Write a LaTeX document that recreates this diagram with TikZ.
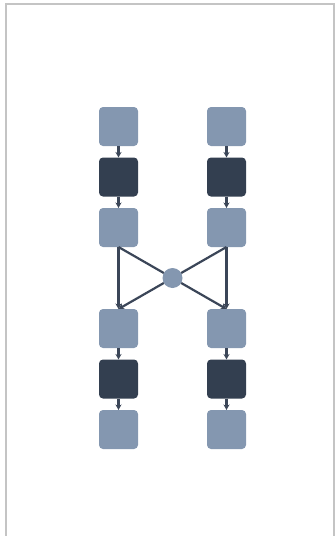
\documentclass[tikz,border=0pt]{standalone}
\usepackage{tikz}
\usetikzlibrary{arrows.meta}
\usetikzlibrary{positioning}
\definecolor{lightslate}{HTML}{8497B0}
\definecolor{darkslate}{HTML}{333F50}
\definecolor{edgecol}{HTML}{3B4658}
\definecolor{framecol}{HTML}{C4C4C4}
\tikzset{
    light node/.style={rounded corners=4pt,fill=lightslate,minimum size=39pt,inner sep=0pt,outer sep=0pt},
    dark node/.style={rounded corners=4pt,fill=darkslate,minimum size=39pt,inner sep=0pt,outer sep=0pt},
    hub node/.style={circle,fill=lightslate,minimum size=20pt,inner sep=0pt,outer sep=0pt}
}

\begin{document}
\begin{tikzpicture}[
            x = 1pt, y = -1pt, % pixel like coordinates
            > = {Stealth[length=5.5pt,width=6pt]}, % arrow head style
            node distance = 11.5pt, % distance between boxes
            line width = 2.2pt % line style
        ]

        \useasboundingbox (0,0) rectangle (336,536);
        \draw[framecol, line width=2pt] (5.5,545) -- (5.5,3.5) -- (333.5,3.5) -- (333.5,545);

        % left column
        \node[light node] (a1) at (118.5,126.5) {};
        \node[dark node] [below=of a1] (a2) {};
        \node[light node] [below=of a2] (a3) {};
        \node[light node] [below=62pt of a3] (a4) {};
        \node[dark node] [below=of a4] (a5) {};
        \node[light node] [below=of a5] (a6) {};

        % right column
        \node[light node] (b1) at (226.5,126.5) {};
        \node[dark node] [below=of b1] (b2) {};
        \node[light node] [below=of b2] (b3) {};
        \node[light node] [below=62pt of b3] (b4) {};
        \node[dark node] [below=of b4] (b5) {};
        \node[light node] [below=of b5] (b6) {};

        \node[hub node] (h) at (172.5,278) {};

        \begin{scope}[edgecol]
            \draw[->] (a1) -- (a2);
            \draw[->] (a2) -- (a3);
            \draw[->] (a3) -- (a4);
            \draw[->] (a4) -- (a5);
            \draw[->] (a5) -- (a6);
            \draw[->] (b1) -- (b2);
            \draw[->] (b2) -- (b3);
            \draw[->] (b3) -- (b4);
            \draw[->] (b4) -- (b5);
            \draw[->] (b5) -- (b6);

            \draw (a3.south) -- (h);
            \draw (b3.south) -- (h);
            \draw[->] (h) -- (b4.north);
            \draw[->] (h) -- (a4.north);
        \end{scope}

  \end{tikzpicture}
\end{document}
